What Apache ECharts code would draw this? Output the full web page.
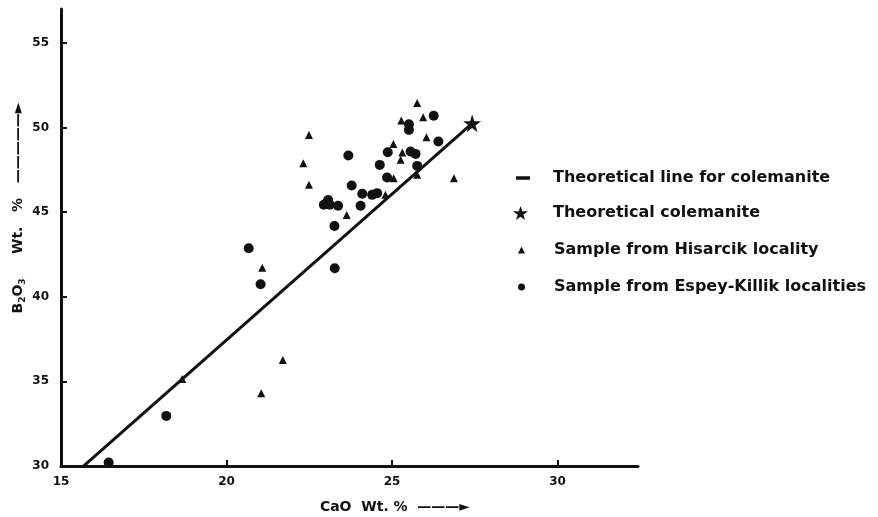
<!DOCTYPE html>
<html>
<head>
<meta charset="utf-8">
<script src="https://cdn.jsdelivr.net/npm/echarts@6/dist/echarts.min.js"></script>
<style>
html, body { margin: 0; padding: 0; background: #fff; }
#chart { width: 878px; height: 517px; }
</style>
</head>
<body>
<div id="chart"></div>
<script>
var xTicks = [15, 20, 25, 30];
var yTicks = [30, 35, 40, 45, 50, 55];

var lineName = 'Theoretical line for colemanite';
var starName = 'Theoretical colemanite';
var hisName = 'Sample from Hisarcik locality';
var espName = 'Sample from Espey-Killik localities';

// CaO, B2O3 pairs
var theoLine = [[15.68, 30], [27.42, 50.25]];
var theoStar = [[27.42, 50.25]];

var hisarcik = [
    [25.76, 51.44], [25.28, 50.41], [25.94, 50.61], [22.49, 49.56],
    [26.04, 49.43], [25.04, 49.03], [25.31, 48.52], [25.26, 48.09],
    [22.32, 47.89], [25.76, 47.2], [25.05, 47.0], [26.87, 47.0],
    [22.49, 46.61], [24.8, 46.02], [23.63, 44.83], [21.08, 41.72],
    [21.7, 36.26], [21.05, 34.3], [18.66, 35.14]
];

var espey = [
    [25.51, 50.19], [25.51, 49.86], [26.26, 50.69], [26.4, 49.17],
    [23.68, 48.34], [24.87, 48.54], [25.56, 48.58], [25.71, 48.44],
    [24.63, 47.79], [25.76, 47.73], [24.85, 47.04], [23.78, 46.57],
    [24.1, 46.08], [24.4, 46.02], [24.55, 46.12], [23.07, 45.72],
    [22.94, 45.43], [23.12, 45.43], [23.37, 45.38], [24.05, 45.38],
    [23.26, 44.18], [20.67, 42.87], [21.03, 40.74], [23.27, 41.68],
    [18.18, 32.96], [16.44, 30.2]
];

var ink = '#111';
var starPath = 'path://M50,0 L61,35 L98,35 L68,57 L79,91 L50,70 L21,91 L32,57 L2,35 L39,35 Z';
var dashPath = 'path://M0,0 L20,0 L20,5 L0,5 Z';
var fontFam = 'DejaVu Sans';

function legendRow(name, top, left, w, h, icon, pad) {
    return {
        data: [{ name: name, icon: icon }],
        orient: 'vertical',
        left: left,
        top: top,
        itemWidth: w,
        itemHeight: h,
        selectedMode: false,
        padding: 0,
        textStyle: {
            color: ink,
            fontFamily: fontFam,
            fontWeight: 'bold',
            fontSize: 16,
            padding: [0, 0, 0, pad]
        }
    };
}

var chart = echarts.init(document.getElementById('chart'));
chart.setOption({
    backgroundColor: '#fff',
    animation: false,
    grid: { left: 61, right: 240, top: 9, bottom: 51 },
    legend: [
        legendRow(lineName, 170, 516, 14, 4, dashPath, 18),
        legendRow(starName, 205, 513, 15, 15, starPath, 20),
        legendRow(hisName, 242, 518, 7, 7, 'triangle', 24),
        legendRow(espName, 279, 518, 7, 7, 'circle', 24)
    ],
    xAxis: {
        type: 'value',
        min: 15,
        max: 32.43,
        interval: 5,
        splitLine: { show: false },
        axisLine: { lineStyle: { color: ink, width: 3 } },
        axisTick: { inside: true, length: 6, customValues: xTicks.slice(1), lineStyle: { color: ink, width: 2 } },
        axisLabel: {
            customValues: xTicks,
            color: ink, fontFamily: fontFam, fontWeight: 'bold', fontSize: 12, margin: 10
        }
    },
    yAxis: {
        type: 'value',
        min: 30,
        max: 57,
        interval: 5,
        splitLine: { show: false },
        axisLine: { lineStyle: { color: ink, width: 3 } },
        axisTick: { inside: true, length: 6, customValues: yTicks.slice(1), lineStyle: { color: ink, width: 2 } },
        axisLabel: {
            customValues: yTicks,
            color: ink, fontFamily: fontFam, fontWeight: 'bold', fontSize: 12, margin: 12
        }
    },
    graphic: [
        {
            type: 'text',
            x: 395, y: 507,
            style: {
                text: 'CaO  Wt. %  \u2014\u2014\u2014\u25BA',
                fill: ink, font: 'bold 14px "DejaVu Sans"',
                align: 'center', verticalAlign: 'middle'
            }
        },
        {
            type: 'text',
            x: 18, y: 208,
            rotation: Math.PI / 2,
            style: {
                text: '{m|B}{s|2}{m|O}{s|3}{m|     Wt.   %   \u2014\u2014\u2014\u2014\u2014\u25BA}',
                align: 'center', verticalAlign: 'middle',
                rich: {
                    m: { fill: ink, font: 'bold 14px "DejaVu Sans"' },
                    s: { fill: ink, font: 'bold 9px "DejaVu Sans"', padding: [9, 0, 0, 0] }
                }
            }
        }
    ],
    series: [
        {
            name: lineName,
            type: 'line',
            data: theoLine,
            symbol: 'none',
            lineStyle: { color: ink, width: 3 },
            itemStyle: { color: ink }
        },
        {
            name: hisName,
            type: 'scatter',
            data: hisarcik,
            symbol: 'triangle',
            symbolSize: 8,
            itemStyle: { color: ink, opacity: 1 }
        },
        {
            name: espName,
            type: 'scatter',
            data: espey,
            symbol: 'circle',
            symbolSize: 10,
            itemStyle: { color: ink, opacity: 1 }
        },
        {
            name: starName,
            type: 'scatter',
            data: theoStar,
            symbol: starPath,
            symbolSize: 18,
            itemStyle: { color: ink, opacity: 1 }
        }
    ]
});
window.addEventListener('resize', function () {
    chart.resize();
});
</script>
</body>
</html>
